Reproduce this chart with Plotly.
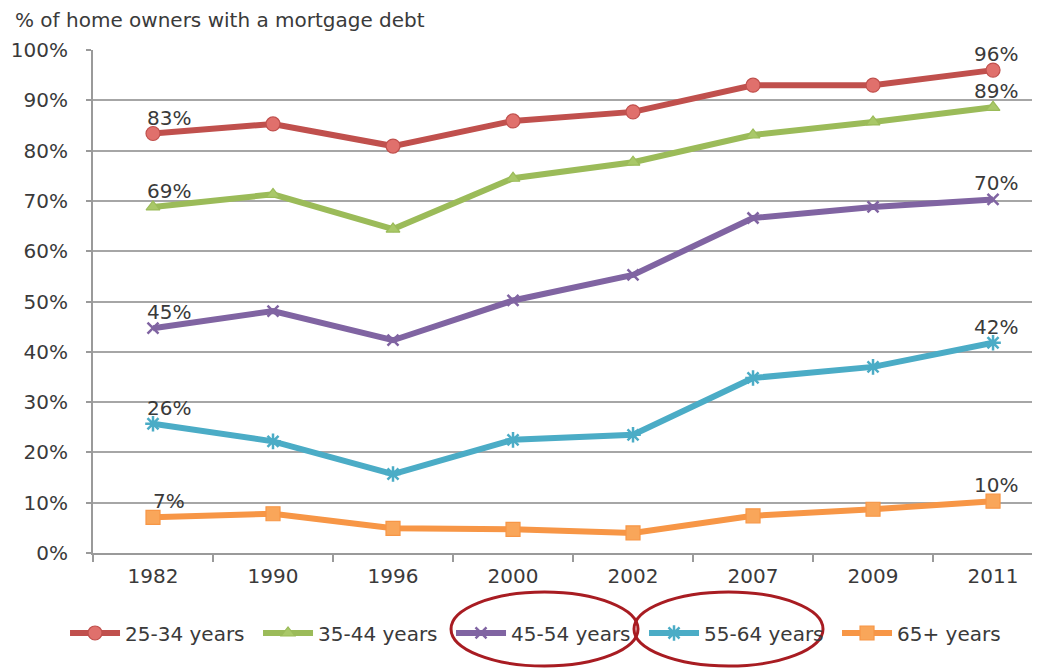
import plotly.graph_objects as go

years = ["1982", "1990", "1996", "2000", "2002", "2007", "2009", "2011"]
series_names = ["25-34 years", "35-44 years", "45-54 years", "55-64 years", "65+ years"]
age_25_34 = [83.4, 85.3, 80.9, 85.9, 87.7, 93.0, 93.0, 96.0]
age_35_44 = [68.8, 71.3, 64.4, 74.5, 77.7, 83.1, 85.7, 88.6]
age_45_54 = [44.7, 48.1, 42.3, 50.2, 55.3, 66.6, 68.8, 70.3]
age_55_64 = [25.7, 22.2, 15.7, 22.5, 23.5, 34.8, 37.0, 41.8]
age_65_plus = [7.1, 7.8, 4.9, 4.7, 4.0, 7.4, 8.7, 10.3]
y_ticks = [0, 10, 20, 30, 40, 50, 60, 70, 80, 90, 100]
y_tick_labels = [f"{v}%" for v in y_ticks]

all_series = [age_25_34, age_35_44, age_45_54, age_55_64, age_65_plus]
line_colors = ["#C0504D", "#9BBB59", "#8064A2", "#4BACC6", "#F79646"]
marker_fill = ["#E0706C", "#A9C868", "#8064A2", "#4BACC6", "#F9A65A"]
symbols = ["circle", "triangle-up", "x-thin-open", "asterisk-open", "square"]
msizes = [14, 12, 11, 13, 14]

FONT = "DejaVu Sans"
TXT = "#3a3a3a"

fig = go.Figure()
for name, vals, lc, mf, sym, ms in zip(series_names, all_series, line_colors, marker_fill, symbols, msizes):
    open_sym = sym.endswith("open")
    fig.add_trace(go.Scatter(
        x=years, y=vals, name=name, mode="lines+markers",
        line=dict(color=lc, width=6),
        marker=dict(symbol=sym, size=ms,
                    color=lc if open_sym else mf,
                    line=dict(color=lc, width=2.5 if open_sym else 1.2)),
    ))

annotations = []
for vals in all_series:
    for idx, xs in ((0, 16), (len(years) - 1, 3)):
        annotations.append(dict(
            x=idx, y=vals[idx], xref="x", yref="y",
            text=f"{round(vals[idx])}%", showarrow=False,
            xshift=xs, yshift=16,
            font=dict(family=FONT, size=20, color=TXT),
        ))

annotations.append(dict(
    x=-0.0838, y=1.0596, xref="paper", yref="paper",
    text="% of home owners with a mortgage debt", showarrow=False,
    xanchor="left", yanchor="middle",
    font=dict(family=FONT, size=20, color=TXT),
))

shapes = [
    dict(type="circle", xref="paper", yref="paper",
         x0=0.3749, x1=0.5707, y0=-0.0775, y1=-0.2247,
         line=dict(color="#A81C22", width=3)),
    dict(type="circle", xref="paper", yref="paper",
         x0=0.5665, x1=0.7644, y0=-0.0775, y1=-0.2247,
         line=dict(color="#A81C22", width=3)),
]

fig.update_layout(
    width=1040, height=669,
    margin=dict(l=85, r=0, t=42, b=124),
    paper_bgcolor="white", plot_bgcolor="white",
    font=dict(family=FONT, size=20, color=TXT),
    showlegend=True,
    legend=dict(orientation="h", x=-0.0293, y=-0.159, xanchor="left", yanchor="middle",
                font=dict(family=FONT, size=20, color=TXT),
                itemwidth=50, entrywidth=128, entrywidthmode="pixels",
                tracegroupgap=0, bgcolor="rgba(0,0,0,0)"),
    annotations=annotations,
    shapes=shapes,
    xaxis=dict(type="category", range=[-0.5, 7.458],
               showline=True, linecolor="#9a9a9a", linewidth=2,
               ticks="outside", tickson="boundaries", ticklen=7, tickwidth=2, tickcolor="#9a9a9a",
               ticklabelstandoff=4,
               showgrid=False, tickfont=dict(family=FONT, size=20, color=TXT)),
    yaxis=dict(range=[0, 100], tickvals=y_ticks, ticktext=y_tick_labels,
               showline=True, linecolor="#9a9a9a", linewidth=2,
               ticks="outside", ticklen=5, tickwidth=2, tickcolor="#9a9a9a",
               ticklabelstandoff=14,
               showgrid=True, gridcolor="#a6a6a6", gridwidth=2,
               zeroline=False, tickfont=dict(family=FONT, size=20, color=TXT)),
)

fig.write_html("out.html")
